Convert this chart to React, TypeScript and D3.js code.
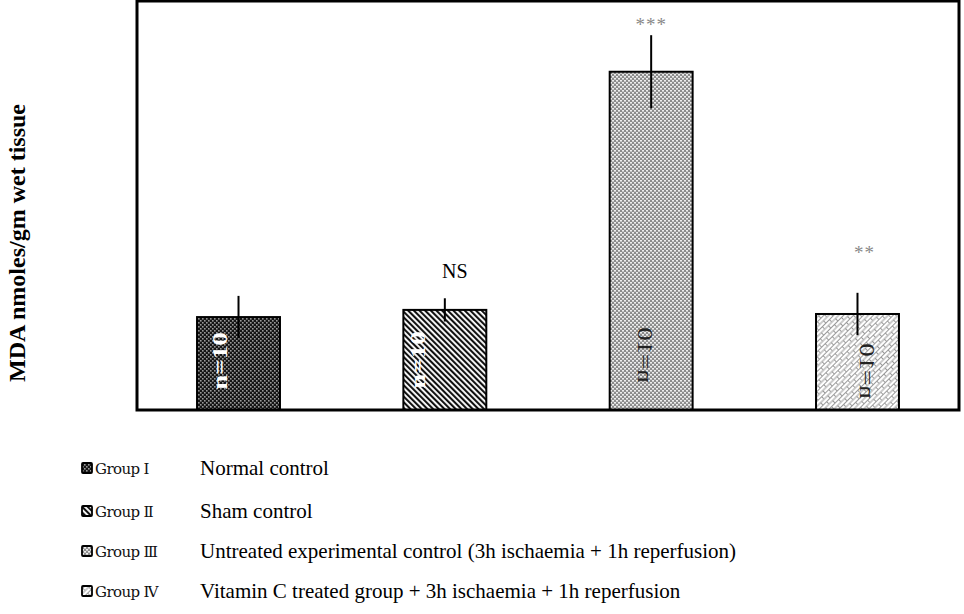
import React from 'react';
import { scaleBand, scaleLinear } from 'd3';

// MDA values (arbitrary units; no axis ticks in the original)
const groups = ['Group I', 'Group II', 'Group III', 'Group IV'];
const groupLabels = ['Group Ⅰ', 'Group Ⅱ', 'Group Ⅲ', 'Group Ⅳ'];
const descriptions = [
  'Normal control',
  'Sham control',
  'Untreated experimental control (3h ischaemia + 1h reperfusion)',
  'Vitamin C treated group + 3h ischaemia + 1h reperfusion',
];
const means = [2.72, 2.93, 9.9, 2.81];
const sds = [0.62, 0.34, 1.07, 0.62];
const sampleSizes = ['n=10', 'n=10', 'n=10', 'n=10'];
const significance = ['', 'NS', '***', '**'];

const W = 964;
const H = 614;
const frame = { left: 137, right: 959, top: 1, bottom: 410 };

const serif = '"Liberation Serif", "Times New Roman", serif';

export default function App() {
  const x = scaleBand<string>()
    .domain(groups)
    .range([frame.left, frame.right])
    .paddingInner(0.598)
    .paddingOuter(0.291);
  const y = scaleLinear().domain([0, 12]).range([frame.bottom, 0]);

  const fills = ['url(#p1)', 'url(#p2)', 'url(#p3)', 'url(#p4)'];
  // label tweaks to match the source figure
  const labelShift = [-16, -24, -9, 7];
  const labelY = [361, 360, 355, 371];
  const mirrored = [false, false, true, true];
  const labelColor = ['#fff', '#fff', '#222', '#222'];
  const sigColor = ['#000', '#000', '#888', '#888'];
  const sigSize = [20, 20, 19, 19];
  const sigGap = [0, 20, 4, 34];
  const sigShift = [0, 10, 0, 7];

  const rowY = [468, 511, 551, 591];

  return (
    <svg
      width={W}
      height={H}
      style={{ position: 'absolute', left: 0, top: 0, background: '#fff' }}
    >
      <defs>
        <pattern id="p1" width="4" height="4" patternUnits="userSpaceOnUse">
          <rect width="4" height="4" fill="#151515" />
          <rect x="0" y="0" width="1.6" height="1.6" fill="#9a9a9a" />
          <rect x="2" y="2" width="1.6" height="1.6" fill="#9a9a9a" />
        </pattern>
        <pattern id="p2" width="4" height="4" patternUnits="userSpaceOnUse" patternTransform="rotate(-45)">
          <rect width="4" height="4" fill="#fff" />
          <rect x="0" y="0" width="2.1" height="4" fill="#111" />
        </pattern>
        <pattern id="p3" width="4" height="4" patternUnits="userSpaceOnUse">
          <rect width="4" height="4" fill="#8c8c8c" />
          <rect x="0" y="0" width="2" height="1.6" fill="#eee" />
          <rect x="2" y="2" width="2" height="1.6" fill="#eee" />
        </pattern>
        <pattern id="p4" width="10" height="7" patternUnits="userSpaceOnUse" patternTransform="rotate(-45)">
          <rect width="10" height="7" fill="#fff" />
          <line x1="0" y1="0.5" x2="10" y2="0.5" stroke="#999" strokeWidth="1" />
          <line x1="0.5" y1="0" x2="0.5" y2="3.5" stroke="#999" strokeWidth="1" />
          <line x1="0" y1="4" x2="10" y2="4" stroke="#999" strokeWidth="1" />
          <line x1="5.5" y1="4" x2="5.5" y2="7" stroke="#999" strokeWidth="1" />
        </pattern>
      </defs>

      {/* y label */}
      <text
        transform={`translate(25,243) rotate(-90)`}
        textAnchor="middle"
        fontFamily={serif}
        fontWeight="bold"
        fontSize={24}
      >
        MDA nmoles/gm wet tissue
      </text>

      {/* bars */}
      {groups.map((g, i) => {
        const bx = x(g) || 0;
        const cx = bx + x.bandwidth() / 2;
        return (
          <g key={g}>
            <rect
              x={bx}
              y={y(means[i])}
              width={x.bandwidth()}
              height={frame.bottom - y(means[i])}
              fill={fills[i]}
              stroke="#000"
              strokeWidth={2}
            />
            <line
              x1={cx}
              x2={cx}
              y1={y(means[i] + sds[i])}
              y2={y(means[i] - sds[i])}
              stroke="#000"
              strokeWidth={2}
            />
            <text
              transform={`translate(${cx + labelShift[i]},${labelY[i]}) ${mirrored[i] ? 'scale(-1,1) ' : ''}rotate(-90) scale(1.35,1)`}
              textAnchor="middle"
              dominantBaseline="middle"
              fontFamily={serif}
              fontWeight={i < 2 ? 'bold' : 'normal'}
              fontSize={20}
              fill={labelColor[i]}
            >
              {sampleSizes[i]}
            </text>
            {significance[i] && (
              <text
                x={cx + sigShift[i]}
                y={y(means[i] + sds[i]) - sigGap[i]}
                textAnchor="middle"
                fontFamily={serif}
                fontSize={sigSize[i]}
                fill={sigColor[i]}
                letterSpacing={significance[i] === 'NS' ? 0 : 1}
              >
                {significance[i]}
              </text>
            )}
          </g>
        );
      })}

      {/* frame */}
      <rect
        x={frame.left}
        y={frame.top}
        width={frame.right - frame.left}
        height={frame.bottom - frame.top}
        fill="none"
        stroke="#000"
        strokeWidth={3}
      />

      {/* legend */}
      {groups.map((g, i) => (
        <g key={'leg' + g} transform={`translate(0,${rowY[i]})`}>
          <rect x={82} y={-5} width={10} height={10} fill={fills[i]} stroke="#000" strokeWidth={1.8} rx={1} />
          <text x={95} y={6} fontFamily='"DejaVu Serif", serif' fontSize={15} fill="#111" letterSpacing={-0.6}>
            {groupLabels[i]}
          </text>
          <text x={200} y={7} fontFamily={serif} fontSize={21} fill="#000">
            {descriptions[i]}
          </text>
        </g>
      ))}
    </svg>
  );
}
